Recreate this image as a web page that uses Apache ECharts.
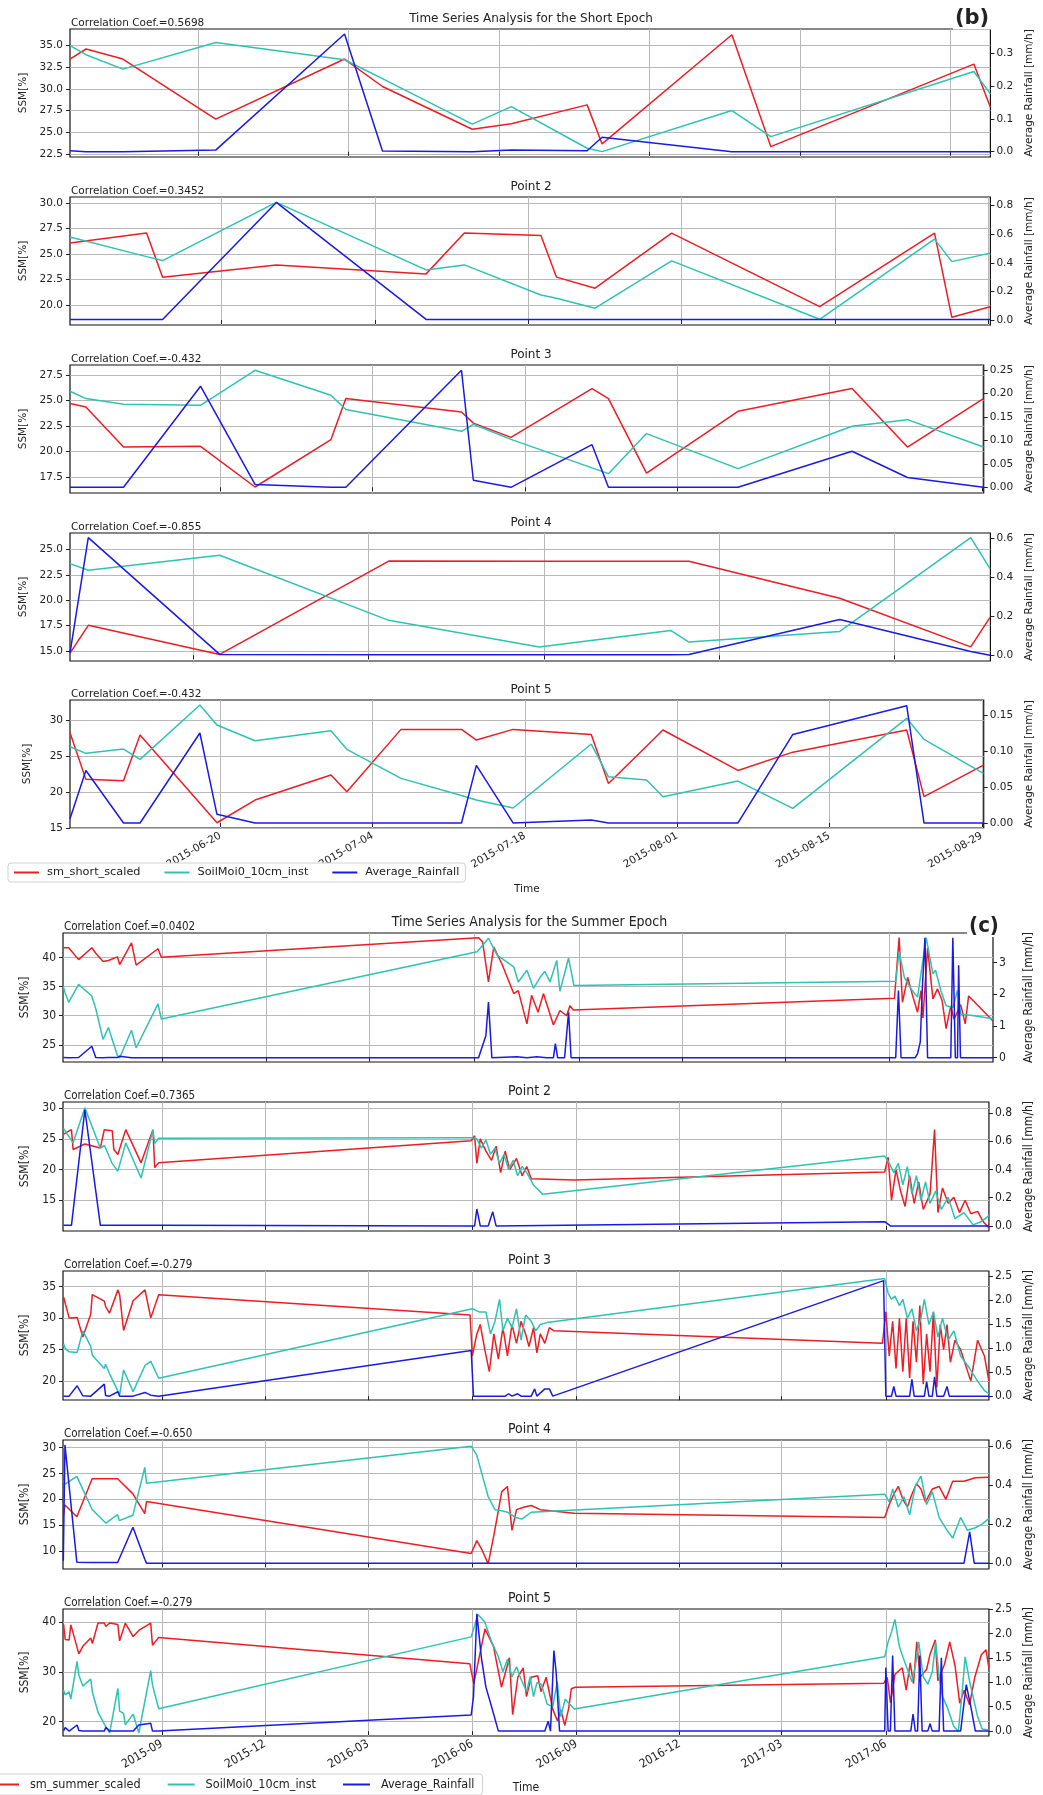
<!DOCTYPE html>
<html><head><meta charset="utf-8">
<script src="https://cdn.jsdelivr.net/npm/echarts@6/dist/echarts.min.js"></script>
<style>html,body{margin:0;padding:0;background:#fff}#c{width:1043px;height:1795px}</style>
</head><body><div id="c"></div>
<script>
// x values: days since 2015-06-01 00:00 UTC
const shortTickDates = ['2015-06-20','2015-07-04','2015-07-18','2015-08-01','2015-08-15','2015-08-29'];
const summerTickDates = ['2015-09-01','2015-12-01','2016-03-01','2016-06-01','2016-09-01','2016-12-01','2017-03-01','2017-06-01'];

// ---- Short epoch ----
const s1Day  = [7.08, 8.57, 12.0, 20.64, 32.63, 36.16, 44.52, 48.15, 55.21, 56.6, 68.68, 72.3, 91.2, 92.74];
const s1Sm   = [33.46, 34.62, 33.46, 26.52, 33.46, 30.29, 25.36, 26.0, 28.17, 23.66, 36.27, 23.35, 32.88, 27.9];
const s1Soil = [35.0, 33.96, 32.3, 35.38, 33.38, 31.2, 25.94, 27.97, 23.16, 22.77, 27.51, 24.5, 32.03, 29.44];
const s1Rain = [0.003, 0.0, 0.0, 0.005, 0.358, 0.002, 0.0, 0.005, 0.003, 0.044, 0.0, 0.0, 0.0, 0.0];

const s2Day  = [5.18, 12.17, 13.63, 24.01, 37.68, 41.17, 48.16, 49.58, 53.1, 60.09, 73.6, 84.08, 85.66, 89.16];
const s2Sm   = [26.08, 27.06, 22.75, 23.95, 23.07, 27.06, 26.82, 22.75, 21.67, 27.06, 19.86, 27.06, 18.82, 19.86];
const s2Soil = [26.67, 24.76, 24.37, 30.06, 23.46, 23.95, 21.0, 20.69, 19.71, 24.34, 18.63, 26.47, 24.27, 25.1];
const s2Rain = [0.004, 0.004, 0.004, 0.823, 0.004, 0.004, 0.004, 0.004, 0.004, 0.004, 0.004, 0.004, 0.004, 0.004];

const s3Day  = [5.18, 6.64, 10.1, 17.18, 22.19, 29.17, 30.54, 41.17, 42.26, 45.72, 53.17, 54.68, 58.18, 66.59, 77.07, 82.17, 89.16];
const s3Sm   = [24.72, 24.38, 20.45, 20.52, 16.52, 21.18, 25.21, 23.89, 22.8, 21.4, 26.19, 25.21, 17.89, 23.96, 26.19, 20.45, 25.21];
const s3Soil = [25.93, 25.21, 24.65, 24.55, 27.99, 25.53, 24.13, 21.99, 22.68, 21.2, 18.4, 17.83, 21.77, 18.33, 22.49, 23.14, 20.45];
const s3Rain = [0.0, 0.0, 0.0, 0.216, 0.006, 0.0, 0.0, 0.25, 0.015, 0.0, 0.091, 0.0, 0.0, 0.0, 0.077, 0.021, 0.0];

const s4Day  = [9.17, 10.63, 21.12, 34.62, 46.63, 57.12, 58.58, 70.62, 81.08, 82.62];
const s4Sm   = [14.79, 17.53, 14.66, 23.87, 23.85, 23.85, 23.85, 20.2, 15.4, 18.32];
const s4Soil = [23.62, 22.96, 24.44, 18.02, 15.4, 17.03, 15.88, 16.93, 26.18, 23.12];
const s4Rain = [0.012, 0.605, 0.005, 0.003, 0.003, 0.003, 0.004, 0.184, 0.02, 0.0];

const s5Day  = [5.18, 6.64, 10.1, 11.62, 17.12, 18.69, 22.19, 29.17, 30.63, 35.61, 41.17, 42.54, 45.91, 53.1, 54.68, 58.18, 59.69, 66.59, 71.63, 82.1, 83.69, 89.16];
const s5Sm   = [28.23, 21.74, 21.55, 27.91, 18.4, 15.7, 18.86, 22.34, 20.01, 28.7, 28.7, 27.21, 28.7, 28.0, 21.17, 26.36, 28.61, 22.98, 25.53, 28.61, 19.33, 23.73];
const s5Soil = [26.28, 25.36, 25.96, 24.53, 32.09, 29.3, 27.12, 28.51, 25.92, 21.88, 19.5, 18.86, 17.75, 26.66, 22.1, 21.64, 19.33, 21.5, 17.7, 30.24, 27.31, 22.58];
const s5Rain = [0.006, 0.073, 0.0, 0.0, 0.125, 0.012, 0.0, 0.0, 0.0, 0.0, 0.0, 0.08, 0.0, 0.004, 0.0, 0.0, 0.0, 0.0, 0.123, 0.163, 0.0, 0.0];

const shortCorr = ['0.5698', '0.3452', '-0.432', '-0.855', '-0.432'];

// ---- Summer epoch ([day, value]) ----
const u1Sm = [[5.0,41.67],[6.5,42.01],[9.7,41.67],[18.4,39.63],[30.0,41.67],[33.5,40.73],[39.9,39.29],[44.6,39.47],[52.5,40.11],[54.5,38.79],[64.9,42.49],[69.0,38.7],[88.2,41.5],[91.1,40.03],
  [369.9,43.4],[373.4,42.7],[378.6,35.8],[383.3,41.8],[390.8,38.7],[400.8,33.8],[404.8,34.3],[412.4,28.6],[416.5,33.5],[422.2,30.6],[426.9,33.8],[435.7,28.4],[441.4,30.9],[447.3,30.0],[450.2,31.7],[453.1,31.0],
  [735.4,33.0],[739.5,43.4],[742.4,32.3],[747.0,36.6],[751.7,33.2],[755.7,30.6],[758.7,34.3],[760.4,29.6],[764.5,41.6],[769.2,32.9],[773.2,34.6],[777.3,32.6],[780.8,27.8],[784.9,31.7],[787.8,29.4],[793.6,31.9],[797.6,28.6],[800.6,33.4],[822,29.1]];
const u1Soil = [[5.0,35.0],[6.5,33.96],[9.7,32.3],[18.4,35.38],[30.0,33.38],[33.5,31.2],[39.9,25.94],[44.6,27.97],[52.5,23.16],[54.5,22.77],[64.9,27.51],[69.0,24.5],[88.2,32.03],[91.1,29.44],
  [368.7,41.0],[378.6,43.3],[386.2,40.4],[400.8,38.4],[404.8,35.8],[412.4,37.8],[418.2,34.7],[424.0,36.6],[428.1,37.6],[432.7,35.8],[438.6,39.5],[441.4,34.2],[449.0,39.9],[453.7,35.2],
  [736.5,35.9],[739.5,41.0],[744.1,36.6],[750.0,34.6],[755.7,33.2],[763.3,43.4],[769.2,37.2],[771.5,37.8],[776.2,34.3],[780.8,31.7],[786.7,31.4],[790.7,34.3],[793.6,30.3],[805.2,30.0],[822,29.5]];
const u1Rain = [[5.0,0.003],[6.5,0],[9.7,0],[18.4,0.005],[30.0,0.358],[33.5,0.002],[39.9,0],[44.6,0.005],[52.5,0.003],[54.5,0.044],[64.9,0],[69.0,0],[88.2,0],[91.1,0],
  [369.9,0],[376.3,0.69],[378.6,1.75],[381.6,0],[403.6,0.03],[412.4,0],[421.1,0.03],[429.8,0],[435.7,0],[437.4,0.44],[439.4,0],[445.5,0],[449.0,1.43],[451.2,0],
  [736.5,0],[738.9,2.12],[741.2,0],[753.7,0],[755.7,0.13],[758.1,0.5],[759.8,2.12],[762.2,3.78],[764.5,0],[784.9,0],[786.7,3.78],[788.9,0],[790.8,0],[791.8,2.91],[793.4,0],[822,0]];

const u2Sm = [[5.18,25.76],[12.17,26.5],[13.63,23.26],[24.01,24.16],[37.68,23.5],[41.17,26.5],[48.16,26.32],[49.58,23.26],[53.1,22.45],[60.09,26.5],[73.6,21.1],[84.08,26.5],[85.66,20.32],[89.16,21.1],
  [365,24.7],[368,25.5],[370,21.0],[373,25.0],[378,23.0],[383,21.5],[387,23.8],[391,19.5],[395,23.0],[399,20.0],[405,21.8],[410,19.0],[414,20.5],[418,18.5],[456,18.3],
  [730,19.6],[733,22.0],[736,15.0],[740,20.0],[744,16.5],[748,14.0],[752,19.0],[756,14.5],[760,18.0],[764,13.5],[770,16.0],[774,26.5],[777,13.0],[781,17.0],[786,14.5],[791,15.5],[796,13.0],[801,15.0],[806,12.8],[812,13.2],[817,11.5],[822,10.5]];
const u2Soil = [[5.18,26.67],[12.17,24.76],[13.63,24.37],[24.01,30.06],[37.68,23.46],[41.17,23.95],[48.16,21.0],[49.58,20.69],[53.1,19.71],[60.09,24.34],[73.6,18.63],[84.08,26.47],[85.66,24.27],[89.16,25.1],
  [365,25.2],[370,25.0],[374,23.5],[378,24.8],[382,22.5],[386,23.5],[390,21.0],[394,22.5],[398,20.0],[402,21.5],[406,19.0],[410,20.5],[414,19.5],[420,17.5],[428,16.0],
  [730,22.2],[734,21.0],[738,19.5],[742,21.0],[746,17.5],[750,20.5],[754,16.0],[758,19.0],[762,15.0],[766,18.0],[770,14.5],[775,16.5],[780,13.5],[786,15.5],[792,12.0],[800,13.0],[808,11.0],[815,11.5],[822,12.5]];
const u2Rain = [[5.18,0.004],[12.17,0.004],[13.63,0.004],[24.01,0.823],[37.68,0.004],[89.16,0.004],
  [365,0],[368,0],[370,0.12],[373,0],[380,0],[384,0.1],[387,0],[730,0.03],[735,0],[822,0]];

const u3Sm = [[5.18,33.36],[6.64,33.1],[10.1,30.05],[17.18,30.1],[22.19,27.0],[29.17,30.62],[30.54,33.74],[41.17,32.72],[42.26,31.87],[45.72,30.79],[53.17,34.5],[54.68,33.74],[58.18,28.06],[66.59,32.77],[77.07,34.5],[82.17,30.05],[89.16,33.74],
  [364,30.5],[366,24],[370,27.5],[373,29],[377,25],[381,21.5],[385,27.5],[389,23.5],[393,28.5],[397,24],[401,29],[405,26],[409,29.5],[413,27.5],[416,25.5],[420,28.5],[423,24.5],[426,27.5],[430,26],[434,28.5],[438,28],
  [728,26],[731,31],[734,24],[737,29.5],[740,22],[743,30],[746,21.5],[749,30],[752,20.5],[755,29.5],[758,23],[761,32],[764,19.5],[767,27.5],[770,21.5],[773,31],[776,19],[779,29],[782,25],[785,29],[788,23],[792,26.5],[797,25],[806,20],[812,26.5],[818,24],[822,20]];
const u3Soil = [[5.18,25.93],[6.64,25.21],[10.1,24.65],[17.18,24.55],[22.19,27.99],[29.17,25.53],[30.54,24.13],[41.17,21.99],[42.26,22.68],[45.72,21.2],[53.17,18.4],[54.68,17.83],[58.18,21.77],[66.59,18.33],[77.07,22.49],[82.17,23.14],[89.16,20.45],
  [366,31.5],[372,31],[378,31],[382,27.5],[386,29.5],[390,33],[393,28],[397,30],[401,28.5],[405,31.5],[409,26.5],[413,30.5],[418,29.5],[422,28],[426,29],[432,29.3],
  [730,36.3],[733,34],[736,33],[739,33.5],[743,32],[746,33],[750,30],[754,31.5],[758,28],[762,30],[765,33],[769,29],[773,31],[777,27],[781,30],[786,26.5],[791,28],[797,24],[805,22],[812,20],[818,18.5],[822,18]];
const u3Rain = [[5.18,0],[6.64,0],[10.1,0],[17.18,0.216],[22.19,0.006],[29.17,0],[30.54,0],[41.17,0.25],[42.26,0.015],[45.72,0],[53.17,0.091],[54.68,0],[58.18,0],[66.59,0],[77.07,0.077],[82.17,0.021],[89.16,0],
  [365,0.95],[367,0],[395,0],[398,0.05],[401,0],[406,0.05],[409,0],[418,0],[421,0.15],[423,0],[430,0.15],[434,0.15],[437,0],
  [729,2.4],[731,0],[736,0],[738,0.2],[740,0],[752,0],[754,0.35],[756,0],[765,0],[767,0.3],[769,0],[772,0],[774,0.4],[776,0],[782,0],[785,0.2],[787,0],[822,0]];

const u4Sm = [[4.97,16.73],[6.43,18.92],[16.92,16.63],[30.42,24.0],[42.43,23.98],[52.92,23.98],[54.38,23.98],[66.42,21.06],[76.88,17.22],[78.42,19.56],
  [365,9.5],[370,12],[375,10],[380,7.5],[385,13],[392,21.5],[397,22.5],[401,14],[405,18],[412,18.5],[418,18.8],[426,18],[456,17.3],
  [730,16.5],[734,19],[738,21],[742,22.5],[746,20],[750,18.5],[754,21],[758,23],[762,22],[766,19.5],[772,22],[778,22.5],[784,20],[790,23.5],[800,23.5],[810,24.2],[822,24.3]];
const u4Soil = [[4.97,23.62],[6.43,22.96],[16.92,24.44],[30.42,18.02],[42.43,15.4],[52.92,17.03],[54.38,15.88],[66.42,16.93],[76.88,26.18],[78.42,23.12],
  [365,30.3],[370,28.5],[375,24.5],[380,20.5],[386,18],[392,17.8],[397,17.5],[404,16.5],[410,16.2],[418,17.5],
  [730,21],[734,19.5],[737,22],[742,18.5],[747,20.5],[752,17],[757,22.5],[762,24.5],[767,19],[772,21.5],[778,16.5],[785,14],[790,12.5],[797,16.5],[803,14],[810,14.5],[816,15.2],[822,16.3]];
const u4Rain = [[4.97,0.012],[6.43,0.605],[16.92,0.005],[30.42,0.003],[42.43,0.003],[52.92,0.003],[54.38,0.004],[66.42,0.184],[76.88,0.02],[78.42,0],
  [456,0],[730,0],[800,0],[805,0.16],[809,0],[822,0]];

const u5Sm = [[5.18,39.58],[6.64,36.48],[10.1,36.39],[11.62,39.42],[17.12,34.89],[18.69,33.6],[22.19,35.1],[29.17,36.77],[30.63,35.66],[35.61,39.8],[41.17,39.8],[42.54,39.09],[45.91,39.8],[53.1,39.47],[54.68,36.21],[58.18,38.68],[59.69,39.76],[66.59,37.07],[71.63,38.29],[82.1,39.76],[83.69,35.33],[89.16,36.9],
  [363.8,31.6],[367.3,27.6],[377.2,38.6],[384.7,35.1],[391.7,26.9],[398.7,32.8],[401.6,21.4],[406.2,28.9],[410.9,30.8],[413.8,25.0],[417.9,28.9],[423.7,29.2],[426.6,26.0],[431.2,28.9],[437.1,22.4],[441.2,20.1],[444.1,22.4],[447.6,19.2],[451.1,22.7],[453.4,26.6],[456.9,26.9],
  [729.2,27.7],[732.2,28.9],[735.1,23.8],[739.1,29.5],[745.5,30.8],[749.0,26.3],[752.5,31.8],[755.4,27.6],[758.3,36.0],[761.2,28.9],[767.0,30.5],[769.9,33.4],[774.6,36.4],[776.9,28.2],[782.8,31.5],[787.4,36.0],[792.1,31.2],[796.2,23.7],[800.2,26.3],[804.9,23.4],[809.5,28.9],[815.3,33.4],[819.4,34.4],[822,30.8]];
const u5Soil = [[5.18,26.28],[6.64,25.36],[10.1,25.96],[11.62,24.53],[17.12,32.09],[18.69,29.3],[22.19,27.12],[29.17,28.51],[30.63,25.92],[35.61,21.88],[41.17,19.5],[42.54,18.86],[45.91,17.75],[53.1,26.66],[54.68,22.1],[58.18,21.64],[59.69,19.33],[66.59,21.5],[71.63,17.7],[82.1,30.24],[83.69,27.31],[89.16,22.58],
  [365,37],[371,41.5],[377,40],[383,36],[389,33],[393,30],[397,32.5],[401,29],[405,31],[409,28.5],[414,26],[417,29],[420,25],[423,27.8],[427,27.5],[432,23.5],[437,23],[441,28],[444,21],[448,24.5],[456,22.5],
  [730,33],[733,36],[736,38],[739,40.5],[743,35],[746,33],[750,30.5],[754,28],[757,31],[760,36],[764,29],[768,27.5],[772,30],[775,36],[778,29],[781,25],[785,23],[788,21],[791,19],[795,18],[798,25],[801,33],[805,28],[809,24],[812,21],[816,18.5],[822,18.3]];
const u5Rain = [[5.18,0.006],[6.64,0.073],[10.1,0],[11.62,0],[17.12,0.125],[18.69,0.012],[22.19,0],[41.17,0],[42.54,0.08],[45.91,0],[53.1,0.004],[54.68,0],[66.59,0],[71.63,0.123],[82.1,0.163],[83.69,0],[89.16,0],
  [365,0.33],[367,0.7],[370,2.4],[374,1.5],[378,0.9],[383,0.5],[389,0],[430,0],[433,0.2],[435,0],[438,1.65],[440,1.2],[443,0],
  [730,0],[731,1.3],[733,0],[735,0],[737,1.55],[739,0],[753,0],[755,0.35],[757,0],[759,0],[761,1.55],[763,0],[768,0],[770,0.15],[772,0],[778,0],[780,1.5],[782,0],[797,0],[802,0.95],[806,0.5],[810,0],[822,0]];

const summerCorr = ['0.0402', '0.7365', '-0.279', '-0.650', '-0.279'];

// ---- axis ranges / ticks ----
const shortX = [[7.08, 92.74], [5.18, 89.18], [5.18, 89.18], [9.17, 82.65], [5.18, 89.18]];
const shortYL = [[22.15, 36.93], [18.07, 30.59], [15.93, 28.51], [14.01, 26.64], [14.97, 32.79]];
const shortYLTicks = [[22.5,25,27.5,30,32.5,35], [20,22.5,25,27.5,30], [17.5,20,22.5,25,27.5], [15,17.5,20,22.5,25], [15,20,25,30]];
const shortYLDec = [1,1,1,1,0];
const shortYR = [[-0.016, 0.373], [-0.035, 0.861], [-0.0122, 0.2613], [-0.029, 0.629], [-0.007, 0.1709]];
const shortYRTicks = [[0,0.1,0.2,0.3], [0,0.2,0.4,0.6,0.8], [0,0.05,0.1,0.15,0.2,0.25], [0,0.2,0.4,0.6], [0,0.05,0.1,0.15]];
const shortYRDec = [1,1,2,1,2];

const summerX = [4.7, 822];
const summerYL = [[22.06, 44.2], [10, 31], [17, 37.5], [6.5, 31.5], [17.1, 42.6]];
const summerYLTicks = [[25,30,35,40], [15,20,25,30], [20,25,30,35], [10,15,20,25,30], [20,30,40]];
const summerYR = [[-0.137, 3.93], [-0.036, 0.879], [-0.08, 2.6], [-0.03, 0.63], [-0.1, 2.5]];
const summerYRTicks = [[0,1,2,3], [0,0.2,0.4,0.6,0.8], [0,0.5,1,1.5,2,2.5], [0,0.2,0.4,0.6], [0,0.5,1,1.5,2,2.5]];
const summerYRDec = [0,1,1,1,1];

// ---------------------------------------------------------------
const RED = '#ee1c24', CYAN = '#2dc3b3', BLUE = '#1a1ae6', INK = '#222';
const BASE = Date.UTC(2015, 5, 1);
const dayOf = s => (Date.parse(s + 'T00:00:00Z') - BASE) / 86400000;
const dateStr = (d, n) => new Date(BASE + Math.round(d) * 86400000).toISOString().slice(0, n);
const shortTicks = shortTickDates.map(dayOf);
const summerTicks = summerTickDates.map(dayOf);

const SF = 'DejaVu Sans';
const CF = '"DejaVu Sans Condensed","Liberation Sans Narrow","DejaVu Sans"';

const grids = [], xAxes = [], yAxes = [], series = [], graphics = [];

function txt(x, y, text, font, align, extra) {
  return Object.assign({ type: 'text', x, y, silent: true, z: 100,
    style: Object.assign({ text, font, fill: INK, textAlign: align, align: align, textVerticalAlign: 'middle', verticalAlign: 'middle' }, extra || {}) });
}

function addPanel(o) {
  grids.push({ left: o.left, top: o.top, width: o.width, height: o.height, show: true,
    borderColor: '#111', borderWidth: 1.2, backgroundColor: 'transparent', containLabel: false });
  const gi = grids.length - 1;
  xAxes.push({ type: 'value', gridIndex: gi, min: o.xr[0], max: o.xr[1],
    axisLine: { show: false },
    axisTick: { show: true, customValues: o.xt, length: 4, lineStyle: { color: INK } },
    axisLabel: { show: o.bottom, customValues: o.xt, rotate: 30, margin: 7, fontSize: o.fs, fontFamily: o.ff, color: INK, formatter: o.xfmt },
    splitLine: { show: true, lineStyle: { color: '#b8b8b8', width: 1 } },
    name: o.bottom ? 'Time' : '', nameLocation: 'middle', nameGap: o.timeGap,
    nameTextStyle: { fontSize: o.fs, fontFamily: o.ff, color: INK } });
  yAxes.push({ type: 'value', gridIndex: gi, position: 'left', min: o.yl[0], max: o.yl[1],
    axisLine: { show: false },
    axisTick: { show: true, customValues: o.ylt, length: 4, lineStyle: { color: INK } },
    axisLabel: { customValues: o.ylt, margin: 7, fontSize: o.fs, fontFamily: o.ff, color: INK, formatter: v => v.toFixed(o.yld) },
    splitLine: { show: true, lineStyle: { color: '#b8b8b8', width: 1 } },
    name: 'SSM[%]', nameLocation: 'middle', nameRotate: 90, nameGap: o.lGap,
    nameTextStyle: { fontSize: o.nfs, fontFamily: o.ff, color: INK } });
  yAxes.push({ type: 'value', gridIndex: gi, position: 'right', min: o.yr[0], max: o.yr[1],
    axisLine: { show: false },
    axisTick: { show: true, customValues: o.yrt, length: 4, lineStyle: { color: INK } },
    axisLabel: { customValues: o.yrt, margin: 6, fontSize: o.fs, fontFamily: o.ff, color: INK, formatter: v => v.toFixed(o.yrd) },
    splitLine: { show: false },
    name: 'Average Rainfall [mm/h]', nameLocation: 'middle', nameRotate: 90, nameGap: o.rGap,
    nameTextStyle: { fontSize: o.nfs, fontFamily: o.ff, color: INK } });
  const mk = (name, data, color, yi) => ({ type: 'line', name, data, xAxisIndex: gi, yAxisIndex: yi,
    showSymbol: false, symbol: 'none', silent: true, animation: false, clip: true,
    lineStyle: { color, width: 1.5 }, itemStyle: { color } });
  series.push(mk(o.smName, o.sm, RED, 2 * gi));
  series.push(mk('SoilMoi0_10cm_inst', o.soil, CYAN, 2 * gi));
  series.push(mk('Average_Rainfall', o.rain, BLUE, 2 * gi + 1));
  graphics.push(txt(o.left + 1, o.top - 6, 'Correlation Coef.=' + o.corr, o.corrFont, 'left'));
  graphics.push(txt(o.left + o.width / 2, o.top - 10.5, o.title, o.titleFont, 'center'));
}

const zip = (xs, ys) => xs.map((x, i) => [x, ys[i]]);
const sDays = [s1Day, s2Day, s3Day, s4Day, s5Day];
const sSm = [s1Sm, s2Sm, s3Sm, s4Sm, s5Sm];
const sSoil = [s1Soil, s2Soil, s3Soil, s4Soil, s5Soil];
const sRain = [s1Rain, s2Rain, s3Rain, s4Rain, s5Rain];
const shortTops = [29, 197, 365, 533, 700];
for (let i = 0; i < 5; i++) {
  addPanel({ left: 70, top: shortTops[i], width: 922, height: 128, xr: shortX[i], xt: shortTicks,
    bottom: i === 4, xfmt: v => dateStr(v, 10), timeGap: 56,
    yl: shortYL[i], ylt: shortYLTicks[i], yld: shortYLDec[i],
    yr: shortYR[i], yrt: shortYRTicks[i], yrd: shortYRDec[i],
    fs: 10.5, nfs: 10.5, ff: SF, lGap: 37, rGap: 30,
    smName: 'sm_short_scaled', sm: zip(sDays[i], sSm[i]), soil: zip(sDays[i], sSoil[i]), rain: zip(sDays[i], sRain[i]),
    corr: shortCorr[i], corrFont: '10.5px "DejaVu Sans"',
    title: i === 0 ? 'Time Series Analysis for the Short Epoch' : 'Point ' + (i + 1), titleFont: '12px "DejaVu Sans"' });
}
const uSm = [u1Sm, u2Sm, u3Sm, u4Sm, u5Sm];
const uSoil = [u1Soil, u2Soil, u3Soil, u4Soil, u5Soil];
const uRain = [u1Rain, u2Rain, u3Rain, u4Rain, u5Rain];
const summerTops = [933, 1102, 1271, 1440, 1609];
for (let i = 0; i < 5; i++) {
  addPanel({ left: 63, top: summerTops[i], width: 933, height: 129, xr: summerX, xt: summerTicks,
    bottom: i === 4, xfmt: v => dateStr(v, 7), timeGap: 46,
    yl: summerYL[i], ylt: summerYLTicks[i], yld: 0,
    yr: summerYR[i], yrt: summerYRTicks[i], yrd: summerYRDec[i],
    fs: 12, nfs: 12, ff: CF, lGap: 30, rGap: 30,
    smName: 'sm_summer_scaled', sm: uSm[i], soil: uSoil[i], rain: uRain[i],
    corr: summerCorr[i], corrFont: '11.5px ' + CF,
    title: i === 0 ? 'Time Series Analysis for the Summer Epoch' : 'Point ' + (i + 1), titleFont: '14px ' + CF });
}
graphics.push(txt(972, 19, '(b)', 'bold 21px "DejaVu Sans"', 'center', { backgroundColor: '#fff', padding: [0, 2] }));
graphics.push(txt(984, 926, '(c)', 'bold 22px ' + CF, 'center', { backgroundColor: '#fff', padding: [0, 2] }));

const legendBase = { orient: 'horizontal', icon: 'rect', itemHeight: 2,
  borderColor: '#d0d0d0', borderWidth: 1, borderRadius: 3, backgroundColor: '#fff', selectedMode: false };
const chart = echarts.init(document.getElementById('c'), null, { renderer: 'canvas' });
chart.setOption({
  animation: false,
  backgroundColor: '#fff',
  grid: grids, xAxis: xAxes, yAxis: yAxes, series,
  legend: [
    Object.assign({}, legendBase, { data: ['sm_short_scaled', 'SoilMoi0_10cm_inst', 'Average_Rainfall'], left: 8, top: 863, padding: [4, 6],
      itemWidth: 25, itemGap: 24, textStyle: { fontSize: 11.3, fontFamily: SF, color: INK, padding: [0, 0, 0, 3] } }),
    Object.assign({}, legendBase, { data: ['sm_summer_scaled', 'SoilMoi0_10cm_inst', 'Average_Rainfall'], left: -16, top: 1774, padding: [4, 8],
      itemWidth: 27, itemGap: 27, textStyle: { fontSize: 12.5, fontFamily: CF, color: INK, padding: [0, 0, 0, 6] } })
  ],
  graphic: graphics
});
</script></body></html>
